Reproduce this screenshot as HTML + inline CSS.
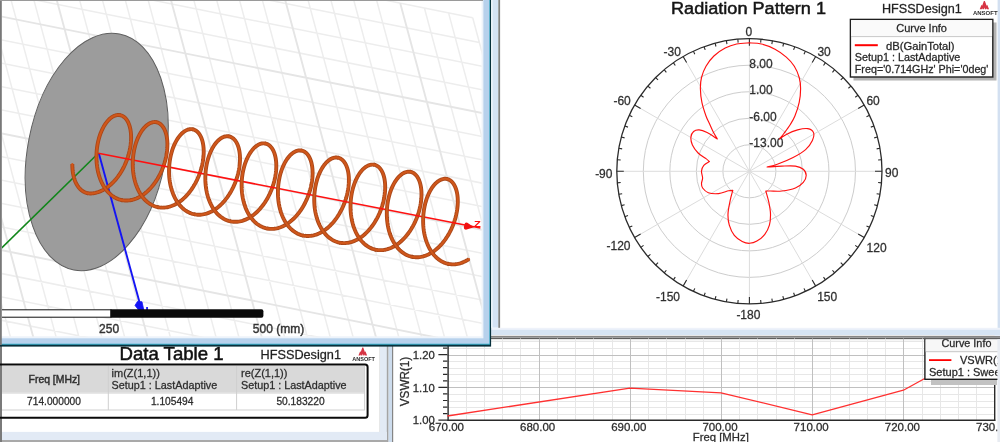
<!DOCTYPE html>
<html lang="en"><head><meta charset="utf-8"><title>HFSS helix antenna results</title>
<style>html,body{margin:0;padding:0;background:#fff;overflow:hidden}svg{display:block}text{font-family:"Liberation Sans", sans-serif;stroke:#333;stroke-width:.28px}</style></head><body>
<svg width="1000" height="442" viewBox="0 0 1000 442">
<rect width="1000" height="442" fill="#fff"/>
<g id="radpat">
<rect x="498" y="0" width="502" height="338" fill="#fff"/>
<rect x="997.6" y="0" width="2.4" height="338" fill="#d3e0f1"/>
<rect x="491" y="327.8" width="509" height="8.4" fill="#eef2fa"/><rect x="491" y="329.8" width="509" height="5.6" fill="#d6e4f3"/>
<circle cx="749.4" cy="171.3" r="26.52" fill="none" stroke="#cdcdcd" stroke-width="1"/>
<circle cx="749.4" cy="171.3" r="53.04" fill="none" stroke="#cdcdcd" stroke-width="1"/>
<circle cx="749.4" cy="171.3" r="79.56" fill="none" stroke="#cdcdcd" stroke-width="1"/>
<circle cx="749.4" cy="171.3" r="106.08" fill="none" stroke="#cdcdcd" stroke-width="1"/>
<line x1="749.4" y1="171.3" x2="749.4" y2="38.7" stroke="#dcdcdc" stroke-width="1"/>
<line x1="749.4" y1="171.3" x2="815.7" y2="56.47" stroke="#dcdcdc" stroke-width="1"/>
<line x1="749.4" y1="171.3" x2="864.23" y2="105" stroke="#dcdcdc" stroke-width="1"/>
<line x1="749.4" y1="171.3" x2="882" y2="171.3" stroke="#dcdcdc" stroke-width="1"/>
<line x1="749.4" y1="171.3" x2="864.23" y2="237.6" stroke="#dcdcdc" stroke-width="1"/>
<line x1="749.4" y1="171.3" x2="815.7" y2="286.13" stroke="#dcdcdc" stroke-width="1"/>
<line x1="749.4" y1="171.3" x2="749.4" y2="303.9" stroke="#dcdcdc" stroke-width="1"/>
<line x1="749.4" y1="171.3" x2="683.1" y2="286.13" stroke="#dcdcdc" stroke-width="1"/>
<line x1="749.4" y1="171.3" x2="634.57" y2="237.6" stroke="#dcdcdc" stroke-width="1"/>
<line x1="749.4" y1="171.3" x2="616.8" y2="171.3" stroke="#dcdcdc" stroke-width="1"/>
<line x1="749.4" y1="171.3" x2="634.57" y2="105" stroke="#dcdcdc" stroke-width="1"/>
<line x1="749.4" y1="171.3" x2="683.1" y2="56.47" stroke="#dcdcdc" stroke-width="1"/>
<circle cx="749.4" cy="171.3" r="132.6" fill="none" stroke="#2b2b2b" stroke-width="1.3"/>
<path d="M749.4 38.7L749.4 45.7M760.96 39.2L760.66 42.59M772.43 40.71L771.84 44.06M783.72 43.22L782.84 46.5M794.75 46.7L793.59 49.89M805.44 51.12L804 54.21M815.7 56.47L812.2 62.53M825.46 62.68L823.51 65.47M834.63 69.72L832.45 72.33M843.16 77.54L840.76 79.94M850.98 86.07L848.37 88.25M858.02 95.24L855.23 97.19M864.23 105L858.17 108.5M869.58 115.26L866.49 116.7M874 125.95L870.81 127.11M877.48 136.98L874.2 137.86M879.99 148.27L876.64 148.86M881.5 159.74L878.11 160.04M882 171.3L875 171.3M881.5 182.86L878.11 182.56M879.99 194.33L876.64 193.74M877.48 205.62L874.2 204.74M874 216.65L870.81 215.49M869.58 227.34L866.49 225.9M864.23 237.6L858.17 234.1M858.02 247.36L855.23 245.41M850.98 256.53L848.37 254.35M843.16 265.06L840.76 262.66M834.63 272.88L832.45 270.27M825.46 279.92L823.51 277.13M815.7 286.13L812.2 280.07M805.44 291.48L804 288.39M794.75 295.9L793.59 292.71M783.72 299.38L782.84 296.1M772.43 301.89L771.84 298.54M760.96 303.4L760.66 300.01M749.4 303.9L749.4 296.9M737.84 303.4L738.14 300.01M726.37 301.89L726.96 298.54M715.08 299.38L715.96 296.1M704.05 295.9L705.21 292.71M693.36 291.48L694.8 288.39M683.1 286.13L686.6 280.07M673.34 279.92L675.29 277.13M664.17 272.88L666.35 270.27M655.64 265.06L658.04 262.66M647.82 256.53L650.43 254.35M640.78 247.36L643.57 245.41M634.57 237.6L640.63 234.1M629.22 227.34L632.31 225.9M624.8 216.65L627.99 215.49M621.32 205.62L624.6 204.74M618.81 194.33L622.16 193.74M617.3 182.86L620.69 182.56M616.8 171.3L623.8 171.3M617.3 159.74L620.69 160.04M618.81 148.27L622.16 148.86M621.32 136.98L624.6 137.86M624.8 125.95L627.99 127.11M629.22 115.26L632.31 116.7M634.57 105L640.63 108.5M640.78 95.24L643.57 97.19M647.82 86.07L650.43 88.25M655.64 77.54L658.04 79.94M664.17 69.72L666.35 72.33M673.34 62.68L675.29 65.47M683.1 56.47L686.6 62.53M693.36 51.12L694.8 54.21M704.05 46.7L705.21 49.89M715.08 43.22L715.96 46.5M726.37 40.71L726.96 44.06M737.84 39.2L738.14 42.59" stroke="#2b2b2b" stroke-width="1.1" fill="none"/>
<text x="748.8" y="36.3" font-size="12" text-anchor="middle" fill="#2e2e2e">0</text>
<text x="824.1" y="55.5" font-size="12" text-anchor="middle" fill="#2e2e2e">30</text>
<text x="873.1" y="104.6" font-size="12" text-anchor="middle" fill="#2e2e2e">60</text>
<text x="891.8" y="177.1" font-size="12" text-anchor="middle" fill="#2e2e2e">90</text>
<text x="876.6" y="252.3" font-size="12" text-anchor="middle" fill="#2e2e2e">120</text>
<text x="827.2" y="300.8" font-size="12" text-anchor="middle" fill="#2e2e2e">150</text>
<text x="748.4" y="319" font-size="12" text-anchor="middle" fill="#2e2e2e">-180</text>
<text x="668" y="300.9" font-size="12" text-anchor="middle" fill="#2e2e2e">-150</text>
<text x="618.5" y="250.3" font-size="12" text-anchor="middle" fill="#2e2e2e">-120</text>
<text x="603.8" y="177.6" font-size="12" text-anchor="middle" fill="#2e2e2e">-90</text>
<text x="622.1" y="104.6" font-size="12" text-anchor="middle" fill="#2e2e2e">-60</text>
<text x="672.2" y="55.5" font-size="12" text-anchor="middle" fill="#2e2e2e">-30</text>
<text x="749.3" y="68.2" font-size="12" fill="#2e2e2e">8.00</text>
<text x="749.3" y="94.4" font-size="12" fill="#2e2e2e">1.00</text>
<text x="749.3" y="120.7" font-size="12" fill="#2e2e2e">-6.00</text>
<text x="749.3" y="147.1" font-size="12" fill="#2e2e2e">-13.00</text>
<path d="M749.5 42.9C751.48 43.08 757.15 42.95 761.4 44C765.65 45.05 770.85 47.02 775 49.2C779.15 51.38 783.08 54.27 786.3 57.1C789.52 59.93 792.15 62.8 794.3 66.2C796.45 69.6 798.15 73.73 799.2 77.5C800.25 81.27 800.6 84.65 800.6 88.8C800.6 92.95 800.15 97.87 799.2 102.4C798.25 106.93 796.38 112.32 794.9 116C793.42 119.68 792.13 121.58 790.3 124.5C788.47 127.42 785.7 131.08 783.9 133.5C782.1 135.92 780.23 138.08 779.5 139L779.5 139C780.63 138.23 783.28 135.92 786.3 134.4C789.32 132.88 794.02 130.87 797.6 129.9C801.18 128.93 805.15 128.15 807.8 128.6C810.45 129.05 812.73 130.62 813.5 132.6C814.27 134.58 813.72 137.67 812.4 140.5C811.08 143.33 808.82 146.77 805.6 149.6C802.38 152.43 797.82 155.05 793.1 157.5C788.38 159.95 781.63 162.72 777.3 164.3C772.97 165.88 768.8 166.55 767.1 167L767.1 167C769.55 166.85 777.08 166.25 781.8 166.1C786.52 165.95 791.82 165.57 795.4 166.1C798.98 166.63 801.5 167.72 803.3 169.3C805.1 170.88 806.2 173.42 806.2 175.6C806.2 177.78 805.1 180.33 803.3 182.4C801.5 184.47 798.98 186.57 795.4 188C791.82 189.43 785.95 190.5 781.8 191C777.65 191.5 773.17 191 770.5 191C767.83 191 766.58 191 765.8 191L765.8 191C766.32 192.93 768.12 198.78 768.9 202.6C769.68 206.42 770.42 210.13 770.5 213.9C770.58 217.67 770.35 221.8 769.4 225.2C768.45 228.6 766.88 231.65 764.8 234.3C762.72 236.95 759.45 239.6 756.9 241.1C754.35 242.6 751.95 243.23 749.5 243.3C747.05 243.37 744.73 242.82 742.2 241.5C739.67 240.18 736.45 238.12 734.3 235.4C732.15 232.68 730.35 228.78 729.3 225.2C728.25 221.62 727.85 218.03 728 213.9C728.15 209.77 729.4 204.33 730.2 200.4C731 196.47 732.37 191.98 732.8 190.3L732.8 190.3C732.1 190.38 730.98 190.25 728.6 190.8C726.22 191.35 721.88 193.28 718.5 193.6C715.12 193.92 710.95 193.63 708.3 192.7C705.65 191.77 703.73 189.53 702.6 188C701.47 186.47 701.5 185.18 701.5 183.5C701.5 181.82 702.6 179.97 702.6 177.9C702.6 175.83 701.3 173.18 701.5 171.1C701.7 169.02 702.48 166.98 703.8 165.4C705.12 163.82 708.47 162.23 709.4 161.6L709.4 161.6C708.83 161.1 707.88 160.03 706 158.6C704.12 157.17 700.37 155.25 698.1 153C695.83 150.75 693.6 147.75 692.4 145.1C691.2 142.45 690.7 139.37 690.9 137.1C691.1 134.83 692.22 132.7 693.6 131.5C694.98 130.3 696.95 129.72 699.2 129.9C701.45 130.08 704.08 131.08 707.1 132.6C710.12 134.12 715.6 137.93 717.3 139L717.3 139C716.58 137.75 714.32 134.07 713 131.5C711.68 128.93 710.57 126.18 709.4 123.6C708.23 121.02 707.25 119.53 706 116C704.75 112.47 702.83 106.93 701.9 102.4C700.97 97.87 700.47 92.95 700.4 88.8C700.33 84.65 700.57 81.27 701.5 77.5C702.43 73.73 703.93 69.78 706 66.2C708.07 62.62 710.7 59.02 713.9 56C717.1 52.98 721.42 50.1 725.2 48.1C728.98 46.1 732.55 44.87 736.6 44C740.65 43.13 747.35 43.08 749.5 42.9" fill="none" stroke="#ff1010" stroke-width="1.15" stroke-linejoin="round"/>
<text x="671" y="14" font-size="17.4" fill="#151515" style="stroke:#151515;stroke-width:.5px" textLength="155" lengthAdjust="spacingAndGlyphs">Radiation Pattern 1</text>
<text x="881.9" y="13.3" font-size="13" fill="#1a1a1a" textLength="80" lengthAdjust="spacingAndGlyphs">HFSSDesign1</text>
<g transform="translate(984.6 0.9) scale(1.08)">
<path transform="scale(0.84 1)" d="M-0.8 0L0.3 0L2.2 4.4L2.9 3.6L4.9 7.8L2.6 7.8L2.2 6.9L1.6 7.8L0.4 7.8L-0.25 6.2L-0.9 7.8L-2.1 7.8L-2.7 6.9L-3.1 7.8L-5.4 7.8L-3.4 3.6L-2.7 4.4Z" fill="#d63444"/>
<text x="0.6" y="13.3" font-size="5" font-weight="bold" text-anchor="middle" fill="#2c2c2c" style="stroke:none" textLength="22.8" lengthAdjust="spacingAndGlyphs">ANSOFT</text>
</g>
<rect x="853.5" y="22.5" width="143" height="58" fill="#b4b4b4"/>
<rect x="850.4" y="19.4" width="142.4" height="57.6" fill="#fff" stroke="#1e1e1e" stroke-width="1.4"/>
<rect x="851.1" y="20.1" width="141" height="16.2" fill="#fafafa"/>
<line x1="851" y1="36.6" x2="992" y2="36.6" stroke="#c8c8c8" stroke-width="1"/>
<text x="921.6" y="32.4" font-size="11" text-anchor="middle" fill="#222">Curve Info</text>
<line x1="854.8" y1="45.2" x2="877.8" y2="45.2" stroke="#ff0000" stroke-width="2"/>
<text x="886" y="50.2" font-size="11" fill="#222" textLength="68.6" lengthAdjust="spacingAndGlyphs">dB(GainTotal)</text>
<text x="854.8" y="61.4" font-size="11" fill="#222" textLength="105.5" lengthAdjust="spacingAndGlyphs">Setup1 : LastAdaptive</text>
<text x="854.8" y="73" font-size="11" fill="#222" textLength="133.6" lengthAdjust="spacingAndGlyphs">Freq='0.714GHz' Phi='0deg'</text>
</g>
<g id="vswr">
<rect x="388" y="336" width="612" height="106" fill="#fff"/>
<rect x="491" y="336" width="509" height="3.2" fill="#b2b2b2"/><rect x="491" y="336" width="509" height="1" fill="#868686"/><rect x="491" y="337.8" width="509" height="1.4" fill="#5e5e5e"/><rect x="393" y="339.2" width="607" height="1.2" fill="#ececec"/>
<path d="M466.5 338.5V420M484.5 338.5V420M502.5 338.5V420M520.5 338.5V420M557.5 338.5V420M575.5 338.5V420M593.5 338.5V420M612.5 338.5V420M648.5 338.5V420M666.5 338.5V420M685.5 338.5V420M703.5 338.5V420M739.5 338.5V420M757.5 338.5V420M776.5 338.5V420M794.5 338.5V420M830.5 338.5V420M849.5 338.5V420M867.5 338.5V420M885.5 338.5V420M922.5 338.5V420M940.5 338.5V420M958.5 338.5V420M976.5 338.5V420M447.4 414.5H994.6M447.4 407.5H994.6M447.4 401.5H994.6M447.4 394.5H994.6M447.4 381.5H994.6M447.4 374.5H994.6M447.4 368.5H994.6M447.4 361.5H994.6M447.4 348.5H994.6M447.4 341.5H994.6M447.4 335.5H994.6" stroke="#e7e7e7" stroke-width="1" fill="none"/>
<path d="M539.5 338.5V420M630.5 338.5V420M721.5 338.5V420M812.5 338.5V420M903.5 338.5V420M447.4 387.5H994.6M447.4 355.5H994.6" stroke="#c0c0c0" stroke-width="1" fill="none"/>
<rect x="447.4" y="339" width="1.4" height="82" fill="#2a2a2a"/>
<rect x="447.2" y="419.5" width="548.1" height="1.5" fill="#2a2a2a"/>
<rect x="994" y="339" width="1.4" height="82" fill="#2a2a2a"/>
<path d="M438.4 420.2H447.4M443 413.64H447.4M443 407.08H447.4M443 400.52H447.4M443 393.96H447.4M438.4 387.4H447.4M443 380.84H447.4M443 374.28H447.4M443 367.72H447.4M443 361.16H447.4M438.4 354.6H447.4M443 348.04H447.4M443 341.48H447.4" stroke="#2a2a2a" stroke-width="1.2" fill="none"/>
<text x="434.8" y="358.8" font-size="11.3" text-anchor="end" fill="#2a2a2a">1.20</text>
<text x="434.8" y="391.6" font-size="11.3" text-anchor="end" fill="#2a2a2a">1.10</text>
<text x="434.8" y="424.4" font-size="11.3" text-anchor="end" fill="#2a2a2a">1.00</text>
<text transform="translate(409.3 381.5) rotate(-90)" font-size="12" text-anchor="middle" fill="#2a2a2a" textLength="49.4" lengthAdjust="spacingAndGlyphs">VSWR(1)</text>
<text x="446.4" y="431.2" font-size="11.5" text-anchor="middle" fill="#2a2a2a">670.00</text>
<text x="537.6" y="431.2" font-size="11.5" text-anchor="middle" fill="#2a2a2a">680.00</text>
<text x="628.8" y="431.2" font-size="11.5" text-anchor="middle" fill="#2a2a2a">690.00</text>
<text x="720" y="431.2" font-size="11.5" text-anchor="middle" fill="#2a2a2a">700.00</text>
<text x="811.2" y="431.2" font-size="11.5" text-anchor="middle" fill="#2a2a2a">710.00</text>
<text x="902.4" y="431.2" font-size="11.5" text-anchor="middle" fill="#2a2a2a">720.00</text>
<text x="993.6" y="431.2" font-size="11.5" text-anchor="middle" fill="#2a2a2a">730.00</text>
<text x="692.8" y="440.9" font-size="11.3" fill="#2a2a2a" textLength="56" lengthAdjust="spacingAndGlyphs">Freq [MHz]</text>
<path d="M447.4 416L629.8 388.2L721 392.8L812.2 414.8L903.4 390.2L994.6 340" fill="none" stroke="#ff3030" stroke-width="1.3" stroke-linejoin="round"/>
<rect x="931" y="380" width="66" height="5" fill="#c2c2c2"/>
<rect x="924.9" y="337" width="80" height="42.3" fill="#fff" stroke="#1e1e1e" stroke-width="1.4"/>
<rect x="925.6" y="339.4" width="75" height="11.8" fill="#f7f7f7"/>
<line x1="925.6" y1="351.7" x2="1000" y2="351.7" stroke="#c4c4c4" stroke-width="1"/>
<text x="941.5" y="347.4" font-size="11" fill="#222" textLength="49.9" lengthAdjust="spacingAndGlyphs">Curve Info</text>
<line x1="929" y1="360.1" x2="951.4" y2="360.1" stroke="#ff0000" stroke-width="1.8"/>
<text x="960" y="364" font-size="11" fill="#222">VSWR(1)</text>
<text x="929" y="376.3" font-size="11" fill="#222">Setup1 : Sweep1</text>
<rect x="924" y="336" width="76" height="1" fill="#868686"/><rect x="924" y="337" width="76" height="0.8" fill="#b2b2b2"/><rect x="924" y="337.8" width="76" height="1.4" fill="#5e5e5e"/>
<rect x="997.4" y="339.2" width="2.6" height="103" fill="#e8ecf2"/>
</g>
<g id="datatable">
<rect x="0" y="345" width="392.8" height="97" fill="#fff"/>
<rect x="379.6" y="345" width="7.4" height="95" fill="#e2eaf5"/>
<rect x="379.2" y="345" width="0.8" height="87" fill="#e4e4e4"/>
<rect x="386.8" y="345" width="1.8" height="97" fill="#a4a4a4"/>
<rect x="388.6" y="345" width="3.6" height="97" fill="#cddced"/>
<rect x="392" y="338" width="1.2" height="104" fill="#858585"/>
<rect x="0" y="431.9" width="387" height="8.2" fill="#e2eaf5"/>
<rect x="0" y="440" width="387" height="2" fill="#a9a9a9"/>
<rect x="0" y="345" width="2" height="97" fill="#7a7a7a"/>
<text x="119.5" y="359.9" font-size="17.8" fill="#111" style="stroke:#111;stroke-width:.5px" textLength="104.1" lengthAdjust="spacingAndGlyphs">Data Table 1</text>
<text x="260.5" y="358.6" font-size="13" fill="#1a1a1a" textLength="80.5" lengthAdjust="spacingAndGlyphs">HFSSDesign1</text>
<g transform="translate(363 347.6) scale(1)">
<path transform="scale(0.84 1)" d="M-0.8 0L0.3 0L2.2 4.4L2.9 3.6L4.9 7.8L2.6 7.8L2.2 6.9L1.6 7.8L0.4 7.8L-0.25 6.2L-0.9 7.8L-2.1 7.8L-2.7 6.9L-3.1 7.8L-5.4 7.8L-3.4 3.6L-2.7 4.4Z" fill="#d63444"/>
<text x="0.6" y="13.3" font-size="5" font-weight="bold" text-anchor="middle" fill="#2c2c2c" style="stroke:none" textLength="22.8" lengthAdjust="spacingAndGlyphs">ANSOFT</text>
</g>
<rect x="2" y="365.8" width="363" height="26.8" fill="#d9d9d9"/>
<rect x="2" y="392.6" width="363" height="17.4" fill="#fff"/>
<path d="M2 393H365M2 410H365M108.3 366V410M236.6 366V410M364.6 366V410" stroke="#cfcfcf" stroke-width="1" fill="none"/>
<rect x="-20" y="364.5" width="387.6" height="53.2" rx="2.5" ry="2.5" fill="none" stroke="#0a0a0a" stroke-width="2"/>
<text x="54.3" y="383" font-size="10.4" text-anchor="middle" fill="#2a2a2a" style="stroke-width:.45px">Freq [MHz]</text>
<text x="111.6" y="376.8" font-size="11" fill="#2a2a2a">im(Z(1,1))</text>
<text x="111.6" y="388.9" font-size="11" fill="#2a2a2a" textLength="105.6" lengthAdjust="spacingAndGlyphs">Setup1 : LastAdaptive</text>
<text x="241" y="376.8" font-size="11" fill="#2a2a2a">re(Z(1,1))</text>
<text x="241" y="388.9" font-size="11" fill="#2a2a2a" textLength="105.6" lengthAdjust="spacingAndGlyphs">Setup1 : LastAdaptive</text>
<text x="54" y="405.3" font-size="10.2" text-anchor="middle" fill="#2a2a2a">714.000000</text>
<text x="172.2" y="405.3" font-size="10.2" text-anchor="middle" fill="#2a2a2a">1.105494</text>
<text x="300.5" y="405.3" font-size="10.2" text-anchor="middle" fill="#2a2a2a">50.183220</text>
</g>
<g id="model3d">
<rect x="0" y="0" width="491.1" height="346.6" fill="#07303c"/>
<rect x="0" y="0" width="489.9" height="344.7" fill="#3fb4d0"/>
<rect x="0" y="0" width="489.3" height="343.7" fill="#b7d1ec"/>
<rect x="0" y="0" width="483.4" height="338.3" fill="#edf3fa"/>
<rect x="0" y="0" width="481.6" height="336.3" fill="#fff"/>
<rect x="491.1" y="0" width="1.4" height="327.6" fill="#eaf1fa"/>
<rect x="492.5" y="0" width="5.8" height="327.6" fill="#d5e3f5"/>
<rect x="498.3" y="0" width="1.8" height="327.8" fill="#828282"/>
<clipPath id="c3d"><rect x="2" y="1" width="479.6" height="335.4"/></clipPath>
<g clip-path="url(#c3d)">
<path d="M-251.8 -127.8L-92.2 465M-227.65 -122.95L-68.05 469.85M-179.35 -113.25L-19.75 479.55M-155.2 -108.4L4.4 484.4M-131.05 -103.55L28.55 489.25M-106.9 -98.7L52.7 494.1M-58.6 -89L101 503.8M-34.45 -84.15L125.15 508.65M-10.3 -79.3L149.3 513.5M13.85 -74.45L173.45 518.35M62.15 -64.75L221.75 528.05M86.3 -59.9L245.9 532.9M110.45 -55.05L270.05 537.75M134.6 -50.2L294.2 542.6M182.9 -40.5L342.5 552.3M207.05 -35.65L366.65 557.15M231.2 -30.8L390.8 562M255.35 -25.95L414.95 566.85M303.65 -16.25L463.25 576.55M327.8 -11.4L487.4 581.4M351.95 -6.55L511.55 586.25M376.1 -1.7L535.7 591.1M424.4 8L584 600.8M448.55 12.85L608.15 605.65M472.7 17.7L632.3 610.5M-251.8 -127.8L472.7 17.7M-245.15 -103.1L479.35 42.4M-238.5 -78.4L486 67.1M-231.85 -53.7L492.65 91.8M-218.55 -4.3L505.95 141.2M-211.9 20.4L512.6 165.9M-205.25 45.1L519.25 190.6M-198.6 69.8L525.9 215.3M-185.3 119.2L539.2 264.7M-178.65 143.9L545.85 289.4M-172 168.6L552.5 314.1M-165.35 193.3L559.15 338.8M-152.05 242.7L572.45 388.2M-145.4 267.4L579.1 412.9M-138.75 292.1L585.75 437.6M-132.1 316.8L592.4 462.3M-118.8 366.2L605.7 511.7M-112.15 390.9L612.35 536.4M-105.5 415.6L619 561.1M-98.85 440.3L625.65 585.8" stroke="#ededed" stroke-width="1.5" fill="none"/>
<path d="M-203.5 -118.1L-43.9 474.7M-82.75 -93.85L76.85 498.95M38 -69.6L197.6 523.2M158.75 -45.35L318.35 547.45M279.5 -21.1L439.1 571.7M400.25 3.15L559.85 595.95M-225.2 -29L499.3 116.5M-191.95 94.5L532.55 240M-158.7 218L565.8 363.5M-125.45 341.5L599.05 487M-92.2 465L632.3 610.5" stroke="#e5e5e5" stroke-width="1.9" fill="none"/>
<ellipse cx="96.7" cy="151.96" rx="68.95" ry="120.18" transform="rotate(10.94 96.7 151.96)" fill="#9c9c9c" stroke="#5f5f5f" stroke-width="1"/>
<line x1="98.3" y1="153.3" x2="-2" y2="251.5" stroke="#11861a" stroke-width="1.6"/>
<line x1="98.8" y1="153.3" x2="140" y2="304" stroke="#1414f4" stroke-width="1.9"/>
<path d="M137.4 301.6L142 301.8L143.8 310L138.6 310L135 305.4Z" fill="#1414f4" stroke="#1414f4" stroke-width="0.8" stroke-linejoin="round"/><rect x="146.2" y="307" width="1.7" height="3" fill="#1414f4"/>
<path d="M87.03 193.04L87.99 193.24L88.98 193.38L89.98 193.45L91.01 193.46L92.06 193.4L93.15 193.27L94.35 193.07L95.62 192.81L96.9 192.48L98.17 192.09L99.44 191.64L100.7 191.12L101.96 190.53L103.21 189.89L104.45 189.19L105.68 188.42L106.89 187.6L108.09 186.73L109.27 185.8L110.43 184.81L111.58 183.77L112.7 182.69L113.8 181.55L114.88 180.37L115.93 179.15L116.96 177.88L117.95 176.58L118.92 175.23L119.86 173.85L120.76 172.44L121.64 171L122.48 169.53L123.28 168.03L124.05 166.51L124.78 164.97L125.48 163.41L126.13 161.84L126.75 160.25L127.33 158.65L127.87 157.05L128.37 155.44L128.83 153.83L129.24 152.22L129.62 150.61L129.95 149.01L130.24 147.42L130.49 145.83L130.7 144.27L130.86 142.72L130.99 141.19L131.07 139.68L131.11 138.19L131.11 136.73L131.06 135.31L130.98 133.91L130.86 132.55L130.7 131.22L130.5 129.93L130.26 128.69L129.98 127.48L129.67 126.33L129.33 125.21L128.94 124.15L128.53 123.14L128.08 122.18L127.6 121.27L127.1 120.42L126.56 119.63L125.99 118.9L125.4 118.22L124.79 117.61L124.15 117.06L123.48 116.57L122.8 116.14L122.1 115.78L121.38 115.49L120.64 115.26L119.89 115.1M121.3 200.01L122.52 200.24L123.75 200.41L125 200.52L126.25 200.55L127.51 200.52L128.78 200.42L130.05 200.26L131.32 200.03L132.6 199.73L133.87 199.37L135.14 198.95L136.41 198.46L137.67 197.9L138.92 197.29L140.17 196.61L141.4 195.88L142.62 195.09L143.82 194.23L145.02 193.33L146.19 192.37L147.34 191.36L148.48 190.29L149.59 189.18L150.68 188.02L151.74 186.82L152.78 185.57L153.79 184.28L154.77 182.96L155.72 181.59L156.64 180.2L157.53 178.77L158.38 177.31L159.21 175.82L159.99 174.31L160.74 172.78L161.45 171.23L162.13 169.67L162.76 168.08L163.36 166.49L163.92 164.89L164.44 163.28L164.91 161.67L165.35 160.06L165.74 158.45L166.1 156.85L166.41 155.25L166.68 153.66L166.9 152.09L167.09 150.53L167.23 148.99L167.33 147.47L167.39 145.97L167.41 144.5L167.39 143.06L167.32 141.65L167.22 140.27L167.07 138.93L166.89 137.62L166.67 136.36L166.41 135.13L166.12 133.95L165.79 132.82L165.42 131.73L165.03 130.7L164.59 129.71L164.13 128.78L163.64 127.91L163.11 127.09L162.56 126.32L161.98 125.62L161.37 124.98L160.75 124.4L160.09 123.88L159.42 123.42L158.73 123.03L158.02 122.71L157.29 122.45L156.54 122.25L155.79 122.13M157.03 206.96L158.24 207.23L159.47 207.43L160.71 207.57L161.96 207.63L163.22 207.63L164.48 207.57L165.75 207.43L167.02 207.24L168.3 206.97L169.57 206.64L170.84 206.24L172.11 205.78L173.38 205.26L174.63 204.67L175.88 204.03L177.12 203.32L178.35 202.55L179.56 201.73L180.76 200.85L181.94 199.91L183.1 198.93L184.24 197.89L185.37 196.8L186.47 195.66L187.54 194.48L188.59 193.25L189.61 191.98L190.61 190.67L191.57 189.33L192.51 187.94L193.41 186.53L194.28 185.09L195.12 183.61L195.92 182.11L196.69 180.59L197.42 179.05L198.11 177.49L198.77 175.92L199.38 174.33L199.96 172.73L200.5 171.13L200.99 169.52L201.45 167.91L201.86 166.3L202.23 164.69L202.56 163.09L202.85 161.5L203.1 159.92L203.3 158.35L203.47 156.8L203.59 155.27L203.67 153.76L203.7 152.28L203.7 150.82L203.65 149.4L203.57 148L203.44 146.64L203.28 145.32L203.08 144.03L202.84 142.79L202.56 141.59L202.25 140.43L201.9 139.33L201.51 138.27L201.1 137.26L200.65 136.3L200.17 135.4L199.66 134.55L199.12 133.76L198.55 133.03L197.96 132.36L197.34 131.75L196.7 131.2L196.04 130.72L195.35 130.3L194.65 129.94L193.93 129.65L193.19 129.42L192.44 129.27M193.97 214.2L195.19 214.43L196.42 214.6L197.67 214.7L198.92 214.73L200.18 214.7L201.45 214.59L202.72 214.43L204 214.19L205.27 213.89L206.54 213.53L207.82 213.1L209.08 212.6L210.34 212.05L211.59 211.43L212.84 210.75L214.07 210.01L215.29 209.21L216.49 208.36L217.68 207.45L218.85 206.49L220.01 205.47L221.14 204.4L222.25 203.29L223.34 202.13L224.4 200.92L225.43 199.67L226.44 198.38L227.42 197.05L228.37 195.69L229.29 194.29L230.18 192.86L231.03 191.4L231.85 189.91L232.63 188.4L233.38 186.87L234.09 185.31L234.76 183.75L235.4 182.16L235.99 180.57L236.55 178.97L237.06 177.36L237.54 175.75L237.97 174.14L238.36 172.53L238.71 170.93L239.02 169.33L239.29 167.74L239.51 166.17L239.69 164.61L239.83 163.07L239.93 161.56L239.99 160.06L240 158.59L239.98 157.15L239.91 155.74L239.81 154.36L239.66 153.02L239.48 151.72L239.25 150.46L238.99 149.24L238.7 148.06L238.36 146.93L238 145.85L237.59 144.81L237.16 143.83L236.69 142.9L236.2 142.03L235.67 141.22L235.12 140.46L234.54 139.76L233.93 139.12L233.3 138.54L232.65 138.03L231.97 137.58L231.28 137.19L230.57 136.87L229.84 136.61L229.09 136.42L228.33 136.3M229.7 221.16L230.91 221.42L232.14 221.62L233.38 221.75L234.63 221.81L235.89 221.81L237.15 221.74L238.42 221.6L239.7 221.4L240.97 221.13L242.24 220.79L243.52 220.4L244.79 219.93L246.05 219.4L247.31 218.81L248.55 218.16L249.79 217.45L251.02 216.68L252.23 215.86L253.42 214.97L254.6 214.03L255.77 213.04L256.91 212L258.03 210.91L259.13 209.77L260.2 208.58L261.25 207.35L262.27 206.08L263.26 204.77L264.23 203.42L265.16 202.04L266.06 200.62L266.93 199.17L267.77 197.7L268.57 196.2L269.33 194.68L270.06 193.13L270.75 191.57L271.4 190L272.02 188.41L272.59 186.81L273.12 185.21L273.62 183.6L274.07 181.98L274.48 180.37L274.85 178.77L275.18 177.17L275.46 175.58L275.71 174L275.91 172.43L276.07 170.88L276.19 169.35L276.26 167.85L276.3 166.37L276.29 164.91L276.25 163.49L276.16 162.1L276.03 160.74L275.86 159.42L275.66 158.13L275.42 156.89L275.14 155.69L274.82 154.54L274.47 153.44L274.08 152.38L273.67 151.37L273.21 150.42L272.73 149.52L272.22 148.68L271.68 147.89L271.11 147.17L270.52 146.5L269.9 145.89L269.25 145.35L268.59 144.87L267.9 144.45L267.2 144.1L266.48 143.81L265.74 143.59L264.99 143.44M266.64 228.4L267.86 228.62L269.09 228.79L270.34 228.88L271.6 228.91L272.86 228.87L274.12 228.76L275.4 228.59L276.67 228.35L277.94 228.05L279.22 227.68L280.49 227.25L281.75 226.75L283.01 226.19L284.27 225.57L285.51 224.88L286.74 224.14L287.96 223.34L289.16 222.48L290.35 221.57L291.52 220.6L292.67 219.58L293.8 218.51L294.91 217.4L296 216.23L297.06 215.02L298.09 213.77L299.1 212.48L300.08 211.15L301.02 209.78L301.94 208.38L302.83 206.95L303.68 205.48L304.49 204L305.28 202.48L306.02 200.95L306.73 199.4L307.4 197.83L308.03 196.24L308.62 194.65L309.18 193.05L309.69 191.44L310.16 189.83L310.59 188.22L310.98 186.61L311.33 185.01L311.63 183.41L311.9 181.82L312.12 180.25L312.3 178.7L312.44 177.16L312.53 175.64L312.59 174.15L312.6 172.68L312.57 171.24L312.5 169.83L312.39 168.46L312.24 167.12L312.06 165.82L311.83 164.56L311.57 163.34L311.27 162.17L310.94 161.04L310.57 159.96L310.16 158.93L309.73 157.95L309.26 157.03L308.76 156.16L308.23 155.35L307.68 154.59L307.1 153.89L306.49 153.26L305.86 152.69L305.2 152.18L304.53 151.73L303.83 151.35L303.12 151.03L302.39 150.78L301.64 150.59L300.88 150.47M302.37 235.35L303.58 235.61L304.81 235.81L306.05 235.93L307.3 235.99L308.56 235.99L309.83 235.91L311.1 235.77L312.37 235.56L313.64 235.29L314.92 234.95L316.19 234.55L317.46 234.08L318.72 233.55L319.98 232.95L321.22 232.3L322.46 231.59L323.69 230.81L324.9 229.98L326.09 229.09L327.27 228.15L328.43 227.16L329.57 226.11L330.69 225.02L331.79 223.87L332.86 222.68L333.91 221.45L334.93 220.18L335.92 218.86L336.88 217.51L337.81 216.13L338.71 214.71L339.58 213.26L340.41 211.79L341.21 210.28L341.97 208.76L342.7 207.22L343.39 205.65L344.04 204.08L344.65 202.49L345.22 200.89L345.75 199.28L346.24 197.67L346.69 196.06L347.1 194.45L347.47 192.85L347.79 191.25L348.08 189.66L348.32 188.08L348.52 186.51L348.67 184.97L348.79 183.44L348.86 181.93L348.89 180.45L348.89 179L348.84 177.58L348.75 176.19L348.62 174.83L348.45 173.51L348.24 172.23L348 171L347.71 169.8L347.4 168.65L347.04 167.55L346.65 166.49L346.23 165.49L345.78 164.54L345.3 163.65L344.78 162.81L344.24 162.03L343.67 161.3L343.07 160.64L342.45 160.04L341.81 159.5L341.14 159.02L340.46 158.61L339.75 158.26L339.03 157.98L338.29 157.76L337.54 157.61M339.31 242.59L340.53 242.81L341.77 242.97L343.01 243.06L344.27 243.09L345.53 243.04L346.8 242.93L348.07 242.76L349.34 242.51L350.62 242.21L351.89 241.83L353.16 241.4L354.43 240.89L355.69 240.33L356.94 239.7L358.18 239.02L359.41 238.27L360.63 237.47L361.83 236.61L363.02 235.69L364.19 234.72L365.34 233.7L366.47 232.62L367.58 231.5L368.66 230.34L369.72 229.12L370.75 227.87L371.76 226.57L372.73 225.24L373.68 223.87L374.59 222.47L375.47 221.03L376.32 219.57L377.14 218.08L377.92 216.57L378.66 215.03L379.37 213.48L380.03 211.91L380.66 210.32L381.25 208.73L381.8 207.13L382.31 205.52L382.78 203.91L383.21 202.3L383.6 200.69L383.94 199.09L384.25 197.49L384.51 195.91L384.73 194.33L384.9 192.78L385.04 191.24L385.13 189.73L385.18 188.23L385.19 186.77L385.16 185.33L385.09 183.93L384.98 182.55L384.83 181.22L384.64 179.92L384.41 178.66L384.15 177.44L383.85 176.27L383.51 175.15L383.14 174.07L382.73 173.05L382.29 172.07L381.83 171.15L381.33 170.28L380.8 169.47L380.24 168.72L379.65 168.03L379.05 167.4L378.41 166.83L377.76 166.32L377.08 165.88L376.38 165.5L375.67 165.19L374.94 164.94L374.19 164.76L373.43 164.64M375.04 249.55L376.25 249.81L377.48 250L378.72 250.12L379.98 250.17L381.23 250.16L382.5 250.08L383.77 249.94L385.04 249.73L386.32 249.45L387.59 249.11L388.86 248.7L390.13 248.23L391.39 247.69L392.65 247.09L393.9 246.44L395.13 245.72L396.36 244.94L397.57 244.11L398.76 243.22L399.94 242.27L401.1 241.27L402.24 240.22L403.36 239.12L404.45 237.98L405.52 236.79L406.57 235.55L407.58 234.28L408.57 232.96L409.53 231.61L410.46 230.22L411.36 228.8L412.23 227.35L413.06 225.87L413.85 224.37L414.61 222.84L415.34 221.3L416.02 219.74L416.67 218.16L417.28 216.57L417.85 214.97L418.38 213.36L418.87 211.75L419.31 210.14L419.72 208.53L420.08 206.93L420.41 205.33L420.69 203.74L420.93 202.16L421.12 200.6L421.28 199.05L421.39 197.52L421.46 196.02L421.49 194.54L421.48 193.09L421.43 191.67L421.33 190.28L421.2 188.93L421.03 187.61L420.82 186.33L420.57 185.1L420.29 183.91L419.97 182.76L419.61 181.66L419.22 180.61L418.8 179.61L418.35 178.66L417.86 177.77L417.35 176.94L416.8 176.16L416.23 175.44L415.63 174.78L415.01 174.18L414.36 173.64L413.7 173.17L413.01 172.76L412.3 172.42L411.58 172.14L410.84 171.92L410.08 171.78M411.98 256.78L413.2 257L414.44 257.16L415.68 257.24L416.94 257.26L418.2 257.22L419.47 257.1L420.74 256.92L422.02 256.68L423.29 256.36L424.56 255.99L425.83 255.54L427.1 255.04L428.36 254.47L429.61 253.84L430.85 253.15L432.08 252.4L433.3 251.59L434.5 250.73L435.69 249.81L436.85 248.84L438 247.81L439.13 246.74L440.24 245.61L441.32 244.44L442.38 243.23L443.41 241.97L444.41 240.67L445.39 239.34L446.33 237.96L447.24 236.56L448.12 235.12L448.97 233.66L449.78 232.17L450.56 230.65L451.3 229.11L452 227.56L452.67 225.99L453.3 224.4L453.88 222.81L454.43 221.21L454.94 219.6L455.41 217.99L455.83 216.38L456.22 214.77L456.56 213.16L456.86 211.57L457.12 209.99L457.33 208.42L457.51 206.86L457.64 205.33L457.73 203.81L457.78 202.32L457.79 200.86L457.75 199.42L457.68 198.02L457.57 196.65L457.41 195.31L457.22 194.02L456.99 192.76L456.73 191.55L456.42 190.38L456.08 189.26L455.71 188.19L455.3 187.16L454.86 186.19L454.39 185.27L453.89 184.41L453.36 183.61L452.8 182.86L452.21 182.17L451.6 181.54L450.97 180.98L450.31 180.47L449.63 180.03L448.93 179.66L448.22 179.35L447.48 179.11L446.74 178.93M447.71 263.75L448.92 264L450.15 264.18L451.4 264.3L452.65 264.35L453.91 264.34L455.17 264.25L456.44 264.1L457.72 263.89L458.99 263.61L460.27 263.26L461.54 262.85L462.8 262.37L464.07 261.83L465.32 261.23L466.57 260.57L467.8 259.85L469.03 259.07" fill="none" stroke="#a9471a" stroke-width="3.9" stroke-linecap="butt" stroke-linejoin="round"/>
<path d="M87.03 193.04L87.99 193.24L88.98 193.38L89.98 193.45L91.01 193.46L92.06 193.4L93.15 193.27L94.35 193.07L95.62 192.81L96.9 192.48L98.17 192.09L99.44 191.64L100.7 191.12L101.96 190.53L103.21 189.89L104.45 189.19L105.68 188.42L106.89 187.6L108.09 186.73L109.27 185.8L110.43 184.81L111.58 183.77L112.7 182.69L113.8 181.55L114.88 180.37L115.93 179.15L116.96 177.88L117.95 176.58L118.92 175.23L119.86 173.85L120.76 172.44L121.64 171L122.48 169.53L123.28 168.03L124.05 166.51L124.78 164.97L125.48 163.41L126.13 161.84L126.75 160.25L127.33 158.65L127.87 157.05L128.37 155.44L128.83 153.83L129.24 152.22L129.62 150.61L129.95 149.01L130.24 147.42L130.49 145.83L130.7 144.27L130.86 142.72L130.99 141.19L131.07 139.68L131.11 138.19L131.11 136.73L131.06 135.31L130.98 133.91L130.86 132.55L130.7 131.22L130.5 129.93L130.26 128.69L129.98 127.48L129.67 126.33L129.33 125.21L128.94 124.15L128.53 123.14L128.08 122.18L127.6 121.27L127.1 120.42L126.56 119.63L125.99 118.9L125.4 118.22L124.79 117.61L124.15 117.06L123.48 116.57L122.8 116.14L122.1 115.78L121.38 115.49L120.64 115.26L119.89 115.1M121.3 200.01L122.52 200.24L123.75 200.41L125 200.52L126.25 200.55L127.51 200.52L128.78 200.42L130.05 200.26L131.32 200.03L132.6 199.73L133.87 199.37L135.14 198.95L136.41 198.46L137.67 197.9L138.92 197.29L140.17 196.61L141.4 195.88L142.62 195.09L143.82 194.23L145.02 193.33L146.19 192.37L147.34 191.36L148.48 190.29L149.59 189.18L150.68 188.02L151.74 186.82L152.78 185.57L153.79 184.28L154.77 182.96L155.72 181.59L156.64 180.2L157.53 178.77L158.38 177.31L159.21 175.82L159.99 174.31L160.74 172.78L161.45 171.23L162.13 169.67L162.76 168.08L163.36 166.49L163.92 164.89L164.44 163.28L164.91 161.67L165.35 160.06L165.74 158.45L166.1 156.85L166.41 155.25L166.68 153.66L166.9 152.09L167.09 150.53L167.23 148.99L167.33 147.47L167.39 145.97L167.41 144.5L167.39 143.06L167.32 141.65L167.22 140.27L167.07 138.93L166.89 137.62L166.67 136.36L166.41 135.13L166.12 133.95L165.79 132.82L165.42 131.73L165.03 130.7L164.59 129.71L164.13 128.78L163.64 127.91L163.11 127.09L162.56 126.32L161.98 125.62L161.37 124.98L160.75 124.4L160.09 123.88L159.42 123.42L158.73 123.03L158.02 122.71L157.29 122.45L156.54 122.25L155.79 122.13M157.03 206.96L158.24 207.23L159.47 207.43L160.71 207.57L161.96 207.63L163.22 207.63L164.48 207.57L165.75 207.43L167.02 207.24L168.3 206.97L169.57 206.64L170.84 206.24L172.11 205.78L173.38 205.26L174.63 204.67L175.88 204.03L177.12 203.32L178.35 202.55L179.56 201.73L180.76 200.85L181.94 199.91L183.1 198.93L184.24 197.89L185.37 196.8L186.47 195.66L187.54 194.48L188.59 193.25L189.61 191.98L190.61 190.67L191.57 189.33L192.51 187.94L193.41 186.53L194.28 185.09L195.12 183.61L195.92 182.11L196.69 180.59L197.42 179.05L198.11 177.49L198.77 175.92L199.38 174.33L199.96 172.73L200.5 171.13L200.99 169.52L201.45 167.91L201.86 166.3L202.23 164.69L202.56 163.09L202.85 161.5L203.1 159.92L203.3 158.35L203.47 156.8L203.59 155.27L203.67 153.76L203.7 152.28L203.7 150.82L203.65 149.4L203.57 148L203.44 146.64L203.28 145.32L203.08 144.03L202.84 142.79L202.56 141.59L202.25 140.43L201.9 139.33L201.51 138.27L201.1 137.26L200.65 136.3L200.17 135.4L199.66 134.55L199.12 133.76L198.55 133.03L197.96 132.36L197.34 131.75L196.7 131.2L196.04 130.72L195.35 130.3L194.65 129.94L193.93 129.65L193.19 129.42L192.44 129.27M193.97 214.2L195.19 214.43L196.42 214.6L197.67 214.7L198.92 214.73L200.18 214.7L201.45 214.59L202.72 214.43L204 214.19L205.27 213.89L206.54 213.53L207.82 213.1L209.08 212.6L210.34 212.05L211.59 211.43L212.84 210.75L214.07 210.01L215.29 209.21L216.49 208.36L217.68 207.45L218.85 206.49L220.01 205.47L221.14 204.4L222.25 203.29L223.34 202.13L224.4 200.92L225.43 199.67L226.44 198.38L227.42 197.05L228.37 195.69L229.29 194.29L230.18 192.86L231.03 191.4L231.85 189.91L232.63 188.4L233.38 186.87L234.09 185.31L234.76 183.75L235.4 182.16L235.99 180.57L236.55 178.97L237.06 177.36L237.54 175.75L237.97 174.14L238.36 172.53L238.71 170.93L239.02 169.33L239.29 167.74L239.51 166.17L239.69 164.61L239.83 163.07L239.93 161.56L239.99 160.06L240 158.59L239.98 157.15L239.91 155.74L239.81 154.36L239.66 153.02L239.48 151.72L239.25 150.46L238.99 149.24L238.7 148.06L238.36 146.93L238 145.85L237.59 144.81L237.16 143.83L236.69 142.9L236.2 142.03L235.67 141.22L235.12 140.46L234.54 139.76L233.93 139.12L233.3 138.54L232.65 138.03L231.97 137.58L231.28 137.19L230.57 136.87L229.84 136.61L229.09 136.42L228.33 136.3M229.7 221.16L230.91 221.42L232.14 221.62L233.38 221.75L234.63 221.81L235.89 221.81L237.15 221.74L238.42 221.6L239.7 221.4L240.97 221.13L242.24 220.79L243.52 220.4L244.79 219.93L246.05 219.4L247.31 218.81L248.55 218.16L249.79 217.45L251.02 216.68L252.23 215.86L253.42 214.97L254.6 214.03L255.77 213.04L256.91 212L258.03 210.91L259.13 209.77L260.2 208.58L261.25 207.35L262.27 206.08L263.26 204.77L264.23 203.42L265.16 202.04L266.06 200.62L266.93 199.17L267.77 197.7L268.57 196.2L269.33 194.68L270.06 193.13L270.75 191.57L271.4 190L272.02 188.41L272.59 186.81L273.12 185.21L273.62 183.6L274.07 181.98L274.48 180.37L274.85 178.77L275.18 177.17L275.46 175.58L275.71 174L275.91 172.43L276.07 170.88L276.19 169.35L276.26 167.85L276.3 166.37L276.29 164.91L276.25 163.49L276.16 162.1L276.03 160.74L275.86 159.42L275.66 158.13L275.42 156.89L275.14 155.69L274.82 154.54L274.47 153.44L274.08 152.38L273.67 151.37L273.21 150.42L272.73 149.52L272.22 148.68L271.68 147.89L271.11 147.17L270.52 146.5L269.9 145.89L269.25 145.35L268.59 144.87L267.9 144.45L267.2 144.1L266.48 143.81L265.74 143.59L264.99 143.44M266.64 228.4L267.86 228.62L269.09 228.79L270.34 228.88L271.6 228.91L272.86 228.87L274.12 228.76L275.4 228.59L276.67 228.35L277.94 228.05L279.22 227.68L280.49 227.25L281.75 226.75L283.01 226.19L284.27 225.57L285.51 224.88L286.74 224.14L287.96 223.34L289.16 222.48L290.35 221.57L291.52 220.6L292.67 219.58L293.8 218.51L294.91 217.4L296 216.23L297.06 215.02L298.09 213.77L299.1 212.48L300.08 211.15L301.02 209.78L301.94 208.38L302.83 206.95L303.68 205.48L304.49 204L305.28 202.48L306.02 200.95L306.73 199.4L307.4 197.83L308.03 196.24L308.62 194.65L309.18 193.05L309.69 191.44L310.16 189.83L310.59 188.22L310.98 186.61L311.33 185.01L311.63 183.41L311.9 181.82L312.12 180.25L312.3 178.7L312.44 177.16L312.53 175.64L312.59 174.15L312.6 172.68L312.57 171.24L312.5 169.83L312.39 168.46L312.24 167.12L312.06 165.82L311.83 164.56L311.57 163.34L311.27 162.17L310.94 161.04L310.57 159.96L310.16 158.93L309.73 157.95L309.26 157.03L308.76 156.16L308.23 155.35L307.68 154.59L307.1 153.89L306.49 153.26L305.86 152.69L305.2 152.18L304.53 151.73L303.83 151.35L303.12 151.03L302.39 150.78L301.64 150.59L300.88 150.47M302.37 235.35L303.58 235.61L304.81 235.81L306.05 235.93L307.3 235.99L308.56 235.99L309.83 235.91L311.1 235.77L312.37 235.56L313.64 235.29L314.92 234.95L316.19 234.55L317.46 234.08L318.72 233.55L319.98 232.95L321.22 232.3L322.46 231.59L323.69 230.81L324.9 229.98L326.09 229.09L327.27 228.15L328.43 227.16L329.57 226.11L330.69 225.02L331.79 223.87L332.86 222.68L333.91 221.45L334.93 220.18L335.92 218.86L336.88 217.51L337.81 216.13L338.71 214.71L339.58 213.26L340.41 211.79L341.21 210.28L341.97 208.76L342.7 207.22L343.39 205.65L344.04 204.08L344.65 202.49L345.22 200.89L345.75 199.28L346.24 197.67L346.69 196.06L347.1 194.45L347.47 192.85L347.79 191.25L348.08 189.66L348.32 188.08L348.52 186.51L348.67 184.97L348.79 183.44L348.86 181.93L348.89 180.45L348.89 179L348.84 177.58L348.75 176.19L348.62 174.83L348.45 173.51L348.24 172.23L348 171L347.71 169.8L347.4 168.65L347.04 167.55L346.65 166.49L346.23 165.49L345.78 164.54L345.3 163.65L344.78 162.81L344.24 162.03L343.67 161.3L343.07 160.64L342.45 160.04L341.81 159.5L341.14 159.02L340.46 158.61L339.75 158.26L339.03 157.98L338.29 157.76L337.54 157.61M339.31 242.59L340.53 242.81L341.77 242.97L343.01 243.06L344.27 243.09L345.53 243.04L346.8 242.93L348.07 242.76L349.34 242.51L350.62 242.21L351.89 241.83L353.16 241.4L354.43 240.89L355.69 240.33L356.94 239.7L358.18 239.02L359.41 238.27L360.63 237.47L361.83 236.61L363.02 235.69L364.19 234.72L365.34 233.7L366.47 232.62L367.58 231.5L368.66 230.34L369.72 229.12L370.75 227.87L371.76 226.57L372.73 225.24L373.68 223.87L374.59 222.47L375.47 221.03L376.32 219.57L377.14 218.08L377.92 216.57L378.66 215.03L379.37 213.48L380.03 211.91L380.66 210.32L381.25 208.73L381.8 207.13L382.31 205.52L382.78 203.91L383.21 202.3L383.6 200.69L383.94 199.09L384.25 197.49L384.51 195.91L384.73 194.33L384.9 192.78L385.04 191.24L385.13 189.73L385.18 188.23L385.19 186.77L385.16 185.33L385.09 183.93L384.98 182.55L384.83 181.22L384.64 179.92L384.41 178.66L384.15 177.44L383.85 176.27L383.51 175.15L383.14 174.07L382.73 173.05L382.29 172.07L381.83 171.15L381.33 170.28L380.8 169.47L380.24 168.72L379.65 168.03L379.05 167.4L378.41 166.83L377.76 166.32L377.08 165.88L376.38 165.5L375.67 165.19L374.94 164.94L374.19 164.76L373.43 164.64M375.04 249.55L376.25 249.81L377.48 250L378.72 250.12L379.98 250.17L381.23 250.16L382.5 250.08L383.77 249.94L385.04 249.73L386.32 249.45L387.59 249.11L388.86 248.7L390.13 248.23L391.39 247.69L392.65 247.09L393.9 246.44L395.13 245.72L396.36 244.94L397.57 244.11L398.76 243.22L399.94 242.27L401.1 241.27L402.24 240.22L403.36 239.12L404.45 237.98L405.52 236.79L406.57 235.55L407.58 234.28L408.57 232.96L409.53 231.61L410.46 230.22L411.36 228.8L412.23 227.35L413.06 225.87L413.85 224.37L414.61 222.84L415.34 221.3L416.02 219.74L416.67 218.16L417.28 216.57L417.85 214.97L418.38 213.36L418.87 211.75L419.31 210.14L419.72 208.53L420.08 206.93L420.41 205.33L420.69 203.74L420.93 202.16L421.12 200.6L421.28 199.05L421.39 197.52L421.46 196.02L421.49 194.54L421.48 193.09L421.43 191.67L421.33 190.28L421.2 188.93L421.03 187.61L420.82 186.33L420.57 185.1L420.29 183.91L419.97 182.76L419.61 181.66L419.22 180.61L418.8 179.61L418.35 178.66L417.86 177.77L417.35 176.94L416.8 176.16L416.23 175.44L415.63 174.78L415.01 174.18L414.36 173.64L413.7 173.17L413.01 172.76L412.3 172.42L411.58 172.14L410.84 171.92L410.08 171.78M411.98 256.78L413.2 257L414.44 257.16L415.68 257.24L416.94 257.26L418.2 257.22L419.47 257.1L420.74 256.92L422.02 256.68L423.29 256.36L424.56 255.99L425.83 255.54L427.1 255.04L428.36 254.47L429.61 253.84L430.85 253.15L432.08 252.4L433.3 251.59L434.5 250.73L435.69 249.81L436.85 248.84L438 247.81L439.13 246.74L440.24 245.61L441.32 244.44L442.38 243.23L443.41 241.97L444.41 240.67L445.39 239.34L446.33 237.96L447.24 236.56L448.12 235.12L448.97 233.66L449.78 232.17L450.56 230.65L451.3 229.11L452 227.56L452.67 225.99L453.3 224.4L453.88 222.81L454.43 221.21L454.94 219.6L455.41 217.99L455.83 216.38L456.22 214.77L456.56 213.16L456.86 211.57L457.12 209.99L457.33 208.42L457.51 206.86L457.64 205.33L457.73 203.81L457.78 202.32L457.79 200.86L457.75 199.42L457.68 198.02L457.57 196.65L457.41 195.31L457.22 194.02L456.99 192.76L456.73 191.55L456.42 190.38L456.08 189.26L455.71 188.19L455.3 187.16L454.86 186.19L454.39 185.27L453.89 184.41L453.36 183.61L452.8 182.86L452.21 182.17L451.6 181.54L450.97 180.98L450.31 180.47L449.63 180.03L448.93 179.66L448.22 179.35L447.48 179.11L446.74 178.93M447.71 263.75L448.92 264L450.15 264.18L451.4 264.3L452.65 264.35L453.91 264.34L455.17 264.25L456.44 264.1L457.72 263.89L458.99 263.61L460.27 263.26L461.54 262.85L462.8 262.37L464.07 261.83L465.32 261.23L466.57 260.57L467.8 259.85L469.03 259.07" fill="none" stroke="#d0571a" stroke-width="2.1" stroke-linecap="round" stroke-linejoin="round"/>
<line x1="98.3" y1="153.3" x2="480.4" y2="228" stroke="#ff1010" stroke-width="1.5"/>
<path d="M474 227.2L465.8 229.8Q463.6 229.6 463.8 227L465 223Q466 222.2 467.4 222.8Z" fill="#f01010"/>
<text x="474" y="227" font-size="9.6" font-weight="bold" fill="#ff1010" style="stroke:none" textLength="6.8" lengthAdjust="spacingAndGlyphs">Z</text>
<path d="M72.33 164.03L72.34 165.63L72.38 167.21L72.48 168.77L72.61 170.3L72.79 171.79L73.01 173.26L73.27 174.68L73.57 176.07L73.92 177.42L74.3 178.73L74.72 179.99L75.18 181.21L75.68 182.37L76.22 183.49L76.79 184.55L77.4 185.57L78.04 186.52L78.71 187.42L79.42 188.26L80.16 189.04L80.92 189.76L81.72 190.42L82.54 191.02L83.39 191.55L84.26 192.02L85.16 192.43L86.08 192.76L87.03 193.04L87.99 193.24M120.64 115.26L119.89 115.1L119.13 115L118.35 114.97L117.57 115.01L116.78 115.11L115.98 115.28L115.18 115.52L114.37 115.82L113.56 116.19L112.76 116.63L111.95 117.13L111.15 117.69L110.35 118.32L109.57 119.01L108.79 119.76L108.02 120.57L107.26 121.44L106.52 122.37L105.79 123.35L105.08 124.39L104.39 125.48L103.71 126.62L103.06 127.81L102.44 129.05L101.83 130.33L101.26 131.66L100.7 133.03L100.18 134.43L99.69 135.88L99.23 137.36L98.8 138.87L98.4 140.41L98.04 141.98L97.71 143.57L97.42 145.19L97.16 146.83L96.94 148.48L96.76 150.15L96.62 151.83L96.52 153.52L96.46 155.22L96.44 156.92L96.46 158.62L96.52 160.33L96.62 162.02L96.77 163.71L96.96 165.39L97.18 167.06L97.46 168.72L97.77 170.35L98.12 171.97L98.52 173.56L98.96 175.13L99.44 176.67L99.96 178.19L100.52 179.66L101.12 181.11L101.76 182.52L102.43 183.88L103.15 185.21L103.9 186.49L104.69 187.73L105.51 188.92L106.37 190.06L107.26 191.15L108.18 192.19L109.13 193.17L110.12 194.09L111.13 194.96L112.17 195.77L113.23 196.52L114.32 197.21L115.44 197.84L116.57 198.4L117.73 198.9L118.9 199.33L120.09 199.7L121.3 200.01L122.52 200.24M156.54 122.25L155.79 122.13L155.02 122.06L154.24 122.07L153.45 122.14L152.65 122.28L151.85 122.49L151.05 122.76L150.24 123.1L149.43 123.51L148.62 123.97L147.82 124.51L147.02 125.11L146.23 125.77L145.45 126.49L144.67 127.27L143.91 128.11L143.16 129.01L142.43 129.97L141.71 130.98L141.01 132.05L140.33 133.17L139.66 134.33L139.03 135.55L138.41 136.81L137.82 138.12L137.26 139.47L136.72 140.86L136.21 142.28L135.74 143.75L135.29 145.24L134.88 146.77L134.5 148.33L134.16 149.91L133.85 151.52L133.57 153.15L133.34 154.79L133.14 156.46L132.98 158.13L132.86 159.82L132.78 161.51L132.74 163.21L132.74 164.91L132.78 166.62L132.87 168.32L132.99 170.01L133.16 171.7L133.37 173.37L133.62 175.03L133.91 176.68L134.25 178.3L134.63 179.91L135.05 181.49L135.51 183.04L136.01 184.57L136.55 186.06L137.13 187.53L137.75 188.95L138.41 190.34L139.11 191.68L139.84 192.99L140.61 194.24L141.42 195.46L142.26 196.62L143.13 197.73L144.04 198.8L144.98 199.8L145.95 200.76L146.95 201.65L147.98 202.49L149.03 203.27L150.11 203.99L151.21 204.64L152.33 205.23L153.48 205.76L154.64 206.23L155.83 206.63L157.03 206.96L158.24 207.23M193.19 129.42L192.44 129.27L191.68 129.17L190.9 129.15L190.12 129.19L189.32 129.3L188.52 129.47L187.72 129.71L186.91 130.02L186.11 130.4L185.3 130.84L184.5 131.34L183.69 131.91L182.9 132.54L182.11 133.23L181.33 133.99L180.56 134.8L179.81 135.67L179.07 136.6L178.34 137.59L177.63 138.63L176.94 139.72L176.27 140.87L175.62 142.06L174.99 143.3L174.39 144.59L173.82 145.92L173.27 147.29L172.75 148.7L172.26 150.15L171.8 151.63L171.37 153.14L170.97 154.68L170.61 156.26L170.28 157.85L169.99 159.47L169.74 161.11L169.53 162.76L169.35 164.43L169.21 166.11L169.11 167.81L169.05 169.5L169.03 171.2L169.06 172.91L169.12 174.61L169.23 176.31L169.37 178L169.56 179.68L169.79 181.34L170.07 183L170.38 184.63L170.74 186.25L171.14 187.84L171.58 189.41L172.06 190.95L172.59 192.46L173.15 193.93L173.75 195.38L174.39 196.78L175.07 198.15L175.79 199.47L176.54 200.75L177.33 201.98L178.16 203.17L179.02 204.31L179.91 205.39L180.83 206.43L181.79 207.41L182.77 208.33L183.79 209.19L184.83 210L185.9 210.75L186.99 211.43L188.1 212.05L189.24 212.61L190.39 213.11L191.57 213.54L192.76 213.9L193.97 214.2L195.19 214.43M229.09 136.42L228.33 136.3L227.56 136.24L226.78 136.25L225.99 136.33L225.2 136.47L224.4 136.68L223.59 136.96L222.78 137.3L221.98 137.71L221.17 138.18L220.37 138.72L219.57 139.32L218.78 139.99L217.99 140.71L217.22 141.5L216.46 142.35L215.71 143.25L214.98 144.21L214.26 145.22L213.56 146.29L212.88 147.41L212.22 148.58L211.58 149.8L210.97 151.07L210.38 152.38L209.82 153.73L209.28 155.12L208.78 156.55L208.3 158.02L207.86 159.52L207.45 161.05L207.07 162.6L206.73 164.19L206.42 165.8L206.15 167.43L205.92 169.07L205.72 170.74L205.57 172.41L205.45 174.1L205.37 175.8L205.33 177.5L205.34 179.2L205.38 180.9L205.47 182.6L205.6 184.29L205.77 185.98L205.98 187.65L206.23 189.31L206.53 190.96L206.87 192.58L207.25 194.18L207.67 195.76L208.13 197.32L208.63 198.84L209.18 200.33L209.76 201.79L210.38 203.21L211.05 204.6L211.75 205.94L212.48 207.24L213.26 208.5L214.06 209.71L214.91 210.87L215.78 211.98L216.69 213.04L217.63 214.04L218.61 214.99L219.61 215.88L220.63 216.72L221.69 217.49L222.77 218.21L223.87 218.86L225 219.45L226.15 219.97L227.31 220.43L228.5 220.83L229.7 221.16L230.91 221.42M265.74 143.59L264.99 143.44L264.22 143.35L263.45 143.33L262.66 143.37L261.87 143.48L261.07 143.66L260.27 143.91L259.46 144.22L258.65 144.6L257.85 145.04L257.04 145.55L256.24 146.12L255.45 146.76L254.66 147.45L253.88 148.21L253.11 149.03L252.36 149.91L251.62 150.84L250.89 151.83L250.18 152.87L249.49 153.97L248.82 155.12L248.18 156.32L247.55 157.56L246.95 158.85L246.38 160.18L245.83 161.55L245.31 162.97L244.82 164.41L244.36 165.9L243.94 167.41L243.54 168.96L243.18 170.53L242.86 172.13L242.57 173.75L242.32 175.39L242.11 177.04L241.93 178.71L241.8 180.4L241.7 182.09L241.64 183.79L241.63 185.49L241.65 187.19L241.72 188.89L241.83 190.59L241.98 192.28L242.17 193.96L242.41 195.62L242.68 197.28L243 198.91L243.36 200.52L243.76 202.12L244.21 203.68L244.69 205.22L245.21 206.73L245.78 208.2L246.38 209.64L247.03 211.04L247.71 212.41L248.43 213.73L249.19 215L249.98 216.24L250.8 217.42L251.67 218.55L252.56 219.64L253.49 220.67L254.44 221.64L255.43 222.56L256.45 223.42L257.49 224.23L258.56 224.97L259.65 225.65L260.77 226.27L261.9 226.82L263.06 227.31L264.24 227.74L265.43 228.1L266.64 228.4L267.86 228.62M301.64 150.59L300.88 150.47L300.11 150.42L299.33 150.43L298.54 150.51L297.74 150.66L296.94 150.87L296.14 151.16L295.33 151.5L294.52 151.92L293.72 152.39L292.91 152.94L292.12 153.54L291.32 154.21L290.54 154.94L289.77 155.73L289.01 156.58L288.26 157.49L287.53 158.45L286.81 159.47L286.11 160.54L285.43 161.66L284.77 162.84L284.14 164.06L283.53 165.33L282.94 166.64L282.38 167.99L281.85 169.39L281.34 170.82L280.87 172.29L280.43 173.79L280.02 175.32L279.65 176.88L279.31 178.47L279 180.08L278.73 181.71L278.5 183.35L278.31 185.02L278.15 186.7L278.04 188.38L277.96 190.08L277.93 191.78L277.93 193.48L277.98 195.18L278.07 196.88L278.2 198.58L278.37 200.26L278.59 201.93L278.84 203.59L279.14 205.24L279.48 206.86L279.87 208.46L280.29 210.04L280.75 211.59L281.26 213.11L281.81 214.6L282.39 216.06L283.02 217.48L283.68 218.86L284.38 220.2L285.12 221.5L285.9 222.75L286.71 223.96L287.56 225.12L288.43 226.22L289.35 227.28L290.29 228.28L291.26 229.23L292.26 230.12L293.29 230.95L294.35 231.72L295.43 232.43L296.54 233.07L297.66 233.66L298.81 234.18L299.98 234.64L301.16 235.03L302.37 235.35L303.58 235.61M338.29 157.76L337.54 157.61L336.77 157.52L335.99 157.51L335.21 157.56L334.42 157.67L333.62 157.86L332.81 158.11L332 158.42L331.2 158.8L330.39 159.25L329.59 159.76L328.79 160.34L327.99 160.98L327.21 161.68L326.43 162.44L325.66 163.26L324.91 164.14L324.17 165.08L323.44 166.07L322.73 167.12L322.05 168.22L321.38 169.37L320.73 170.57L320.11 171.82L319.51 173.11L318.94 174.44L318.39 175.82L317.87 177.23L317.39 178.68L316.93 180.17L316.51 181.69L316.12 183.23L315.76 184.81L315.44 186.41L315.15 188.03L314.9 189.67L314.69 191.32L314.52 193L314.38 194.68L314.29 196.37L314.24 198.07L314.22 199.77L314.25 201.47L314.32 203.17L314.43 204.87L314.58 206.56L314.78 208.24L315.02 209.9L315.3 211.56L315.62 213.19L315.98 214.8L316.38 216.39L316.83 217.96L317.32 219.49L317.84 221L318.41 222.47L319.02 223.91L319.66 225.31L320.35 226.67L321.07 227.99L321.83 229.26L322.62 230.49L323.45 231.67L324.32 232.8L325.21 233.88L326.14 234.91L327.1 235.88L328.09 236.79L329.1 237.65L330.15 238.45L331.22 239.19L332.31 239.87L333.43 240.48L334.57 241.03L335.73 241.52L336.9 241.94L338.1 242.3L339.31 242.59L340.53 242.81M374.19 164.76L373.43 164.64L372.66 164.59L371.88 164.61L371.09 164.7L370.29 164.85L369.49 165.07L368.68 165.35L367.87 165.71L367.07 166.12L366.26 166.6L365.46 167.15L364.66 167.76L363.87 168.43L363.09 169.16L362.32 169.96L361.56 170.81L360.81 171.72L360.08 172.69L359.36 173.71L358.66 174.79L357.99 175.91L357.33 177.09L356.69 178.31L356.08 179.58L355.5 180.9L354.94 182.26L354.41 183.65L353.91 185.09L353.44 186.56L353 188.06L352.59 189.59L352.22 191.16L351.88 192.74L351.58 194.35L351.31 195.99L351.08 197.63L350.89 199.3L350.74 200.98L350.63 202.67L350.55 204.36L350.52 206.06L350.53 207.76L350.58 209.47L350.67 211.16L350.81 212.86L350.98 214.54L351.2 216.21L351.46 217.87L351.76 219.51L352.1 221.14L352.49 222.74L352.91 224.31L353.38 225.86L353.89 227.38L354.44 228.87L355.03 230.33L355.65 231.74L356.32 233.12L357.02 234.46L357.77 235.76L358.54 237.01L359.36 238.21L360.2 239.37L361.08 240.47L362 241.52L362.94 242.52L363.92 243.46L364.92 244.35L365.95 245.17L367.01 245.94L368.09 246.65L369.2 247.29L370.33 247.87L371.48 248.39L372.65 248.84L373.83 249.23L375.04 249.55L376.25 249.81M410.84 171.92L410.08 171.78L409.32 171.7L408.54 171.68L407.75 171.74L406.96 171.86L406.16 172.05L405.36 172.3L404.55 172.62L403.74 173.01L402.94 173.46L402.13 173.97L401.33 174.55L400.54 175.2L399.75 175.9L398.97 176.67L398.21 177.49L397.46 178.38L396.72 179.32L395.99 180.31L395.29 181.36L394.6 182.47L393.93 183.62L393.29 184.82L392.67 186.07L392.07 187.37L391.5 188.7L390.95 190.08L390.44 191.5L389.95 192.95L389.5 194.44L389.08 195.96L388.69 197.51L388.33 199.08L388.01 200.68L387.73 202.31L387.48 203.95L387.27 205.61L387.1 207.28L386.97 208.96L386.88 210.65L386.83 212.35L386.82 214.05L386.85 215.76L386.92 217.46L387.04 219.15L387.19 220.84L387.39 222.52L387.63 224.19L387.91 225.84L388.23 227.47L388.6 229.08L389 230.67L389.45 232.23L389.94 233.76L390.47 235.27L391.04 236.74L391.65 238.17L392.3 239.57L392.99 240.93L393.71 242.24L394.47 243.52L395.27 244.74L396.1 245.92L396.96 247.05L397.86 248.12L398.79 249.15L399.75 250.12L400.74 251.03L401.76 251.88L402.81 252.68L403.88 253.41L404.98 254.08L406.09 254.7L407.23 255.24L408.39 255.73L409.57 256.14L410.77 256.5L411.98 256.78L413.2 257M447.48 179.11L446.74 178.93L445.98 178.82L445.2 178.77L444.42 178.79L443.63 178.88L442.83 179.04L442.03 179.26L441.23 179.55L440.42 179.91L439.61 180.33L438.81 180.81L438 181.36L437.21 181.98L436.42 182.65L435.64 183.39L434.86 184.19L434.1 185.04L433.36 185.96L432.63 186.93L431.91 187.95L431.22 189.03L430.54 190.16L429.88 191.34L429.25 192.57L428.64 193.84L428.06 195.16L427.5 196.52L426.97 197.92L426.47 199.36L426.01 200.83L425.57 202.33L425.16 203.87L424.79 205.43L424.46 207.02L424.16 208.63L423.89 210.26L423.67 211.92L423.48 213.58L423.33 215.26L423.22 216.95L423.15 218.64L423.12 220.35L423.13 222.05L423.18 223.75L423.27 225.45L423.41 227.14L423.59 228.82L423.81 230.5L424.07 232.15L424.37 233.79L424.72 235.41L425.11 237.01L425.54 238.59L426.01 240.14L426.52 241.65L427.07 243.14L427.66 244.59L428.29 246.01L428.96 247.39L429.66 248.72L430.41 250.01L431.19 251.26L432 252.46L432.85 253.61L433.74 254.71L434.65 255.76L435.6 256.76L436.57 257.7L437.58 258.58L438.61 259.4L439.67 260.16L440.76 260.87L441.86 261.51L442.99 262.08L444.14 262.6L445.31 263.05L446.5 263.43L447.71 263.75L448.92 264" fill="none" stroke="#a9471a" stroke-width="3.9" stroke-linecap="butt" stroke-linejoin="round"/>
<path d="M72.33 164.03L72.34 165.63L72.38 167.21L72.48 168.77L72.61 170.3L72.79 171.79L73.01 173.26L73.27 174.68L73.57 176.07L73.92 177.42L74.3 178.73L74.72 179.99L75.18 181.21L75.68 182.37L76.22 183.49L76.79 184.55L77.4 185.57L78.04 186.52L78.71 187.42L79.42 188.26L80.16 189.04L80.92 189.76L81.72 190.42L82.54 191.02L83.39 191.55L84.26 192.02L85.16 192.43L86.08 192.76L87.03 193.04L87.99 193.24M120.64 115.26L119.89 115.1L119.13 115L118.35 114.97L117.57 115.01L116.78 115.11L115.98 115.28L115.18 115.52L114.37 115.82L113.56 116.19L112.76 116.63L111.95 117.13L111.15 117.69L110.35 118.32L109.57 119.01L108.79 119.76L108.02 120.57L107.26 121.44L106.52 122.37L105.79 123.35L105.08 124.39L104.39 125.48L103.71 126.62L103.06 127.81L102.44 129.05L101.83 130.33L101.26 131.66L100.7 133.03L100.18 134.43L99.69 135.88L99.23 137.36L98.8 138.87L98.4 140.41L98.04 141.98L97.71 143.57L97.42 145.19L97.16 146.83L96.94 148.48L96.76 150.15L96.62 151.83L96.52 153.52L96.46 155.22L96.44 156.92L96.46 158.62L96.52 160.33L96.62 162.02L96.77 163.71L96.96 165.39L97.18 167.06L97.46 168.72L97.77 170.35L98.12 171.97L98.52 173.56L98.96 175.13L99.44 176.67L99.96 178.19L100.52 179.66L101.12 181.11L101.76 182.52L102.43 183.88L103.15 185.21L103.9 186.49L104.69 187.73L105.51 188.92L106.37 190.06L107.26 191.15L108.18 192.19L109.13 193.17L110.12 194.09L111.13 194.96L112.17 195.77L113.23 196.52L114.32 197.21L115.44 197.84L116.57 198.4L117.73 198.9L118.9 199.33L120.09 199.7L121.3 200.01L122.52 200.24M156.54 122.25L155.79 122.13L155.02 122.06L154.24 122.07L153.45 122.14L152.65 122.28L151.85 122.49L151.05 122.76L150.24 123.1L149.43 123.51L148.62 123.97L147.82 124.51L147.02 125.11L146.23 125.77L145.45 126.49L144.67 127.27L143.91 128.11L143.16 129.01L142.43 129.97L141.71 130.98L141.01 132.05L140.33 133.17L139.66 134.33L139.03 135.55L138.41 136.81L137.82 138.12L137.26 139.47L136.72 140.86L136.21 142.28L135.74 143.75L135.29 145.24L134.88 146.77L134.5 148.33L134.16 149.91L133.85 151.52L133.57 153.15L133.34 154.79L133.14 156.46L132.98 158.13L132.86 159.82L132.78 161.51L132.74 163.21L132.74 164.91L132.78 166.62L132.87 168.32L132.99 170.01L133.16 171.7L133.37 173.37L133.62 175.03L133.91 176.68L134.25 178.3L134.63 179.91L135.05 181.49L135.51 183.04L136.01 184.57L136.55 186.06L137.13 187.53L137.75 188.95L138.41 190.34L139.11 191.68L139.84 192.99L140.61 194.24L141.42 195.46L142.26 196.62L143.13 197.73L144.04 198.8L144.98 199.8L145.95 200.76L146.95 201.65L147.98 202.49L149.03 203.27L150.11 203.99L151.21 204.64L152.33 205.23L153.48 205.76L154.64 206.23L155.83 206.63L157.03 206.96L158.24 207.23M193.19 129.42L192.44 129.27L191.68 129.17L190.9 129.15L190.12 129.19L189.32 129.3L188.52 129.47L187.72 129.71L186.91 130.02L186.11 130.4L185.3 130.84L184.5 131.34L183.69 131.91L182.9 132.54L182.11 133.23L181.33 133.99L180.56 134.8L179.81 135.67L179.07 136.6L178.34 137.59L177.63 138.63L176.94 139.72L176.27 140.87L175.62 142.06L174.99 143.3L174.39 144.59L173.82 145.92L173.27 147.29L172.75 148.7L172.26 150.15L171.8 151.63L171.37 153.14L170.97 154.68L170.61 156.26L170.28 157.85L169.99 159.47L169.74 161.11L169.53 162.76L169.35 164.43L169.21 166.11L169.11 167.81L169.05 169.5L169.03 171.2L169.06 172.91L169.12 174.61L169.23 176.31L169.37 178L169.56 179.68L169.79 181.34L170.07 183L170.38 184.63L170.74 186.25L171.14 187.84L171.58 189.41L172.06 190.95L172.59 192.46L173.15 193.93L173.75 195.38L174.39 196.78L175.07 198.15L175.79 199.47L176.54 200.75L177.33 201.98L178.16 203.17L179.02 204.31L179.91 205.39L180.83 206.43L181.79 207.41L182.77 208.33L183.79 209.19L184.83 210L185.9 210.75L186.99 211.43L188.1 212.05L189.24 212.61L190.39 213.11L191.57 213.54L192.76 213.9L193.97 214.2L195.19 214.43M229.09 136.42L228.33 136.3L227.56 136.24L226.78 136.25L225.99 136.33L225.2 136.47L224.4 136.68L223.59 136.96L222.78 137.3L221.98 137.71L221.17 138.18L220.37 138.72L219.57 139.32L218.78 139.99L217.99 140.71L217.22 141.5L216.46 142.35L215.71 143.25L214.98 144.21L214.26 145.22L213.56 146.29L212.88 147.41L212.22 148.58L211.58 149.8L210.97 151.07L210.38 152.38L209.82 153.73L209.28 155.12L208.78 156.55L208.3 158.02L207.86 159.52L207.45 161.05L207.07 162.6L206.73 164.19L206.42 165.8L206.15 167.43L205.92 169.07L205.72 170.74L205.57 172.41L205.45 174.1L205.37 175.8L205.33 177.5L205.34 179.2L205.38 180.9L205.47 182.6L205.6 184.29L205.77 185.98L205.98 187.65L206.23 189.31L206.53 190.96L206.87 192.58L207.25 194.18L207.67 195.76L208.13 197.32L208.63 198.84L209.18 200.33L209.76 201.79L210.38 203.21L211.05 204.6L211.75 205.94L212.48 207.24L213.26 208.5L214.06 209.71L214.91 210.87L215.78 211.98L216.69 213.04L217.63 214.04L218.61 214.99L219.61 215.88L220.63 216.72L221.69 217.49L222.77 218.21L223.87 218.86L225 219.45L226.15 219.97L227.31 220.43L228.5 220.83L229.7 221.16L230.91 221.42M265.74 143.59L264.99 143.44L264.22 143.35L263.45 143.33L262.66 143.37L261.87 143.48L261.07 143.66L260.27 143.91L259.46 144.22L258.65 144.6L257.85 145.04L257.04 145.55L256.24 146.12L255.45 146.76L254.66 147.45L253.88 148.21L253.11 149.03L252.36 149.91L251.62 150.84L250.89 151.83L250.18 152.87L249.49 153.97L248.82 155.12L248.18 156.32L247.55 157.56L246.95 158.85L246.38 160.18L245.83 161.55L245.31 162.97L244.82 164.41L244.36 165.9L243.94 167.41L243.54 168.96L243.18 170.53L242.86 172.13L242.57 173.75L242.32 175.39L242.11 177.04L241.93 178.71L241.8 180.4L241.7 182.09L241.64 183.79L241.63 185.49L241.65 187.19L241.72 188.89L241.83 190.59L241.98 192.28L242.17 193.96L242.41 195.62L242.68 197.28L243 198.91L243.36 200.52L243.76 202.12L244.21 203.68L244.69 205.22L245.21 206.73L245.78 208.2L246.38 209.64L247.03 211.04L247.71 212.41L248.43 213.73L249.19 215L249.98 216.24L250.8 217.42L251.67 218.55L252.56 219.64L253.49 220.67L254.44 221.64L255.43 222.56L256.45 223.42L257.49 224.23L258.56 224.97L259.65 225.65L260.77 226.27L261.9 226.82L263.06 227.31L264.24 227.74L265.43 228.1L266.64 228.4L267.86 228.62M301.64 150.59L300.88 150.47L300.11 150.42L299.33 150.43L298.54 150.51L297.74 150.66L296.94 150.87L296.14 151.16L295.33 151.5L294.52 151.92L293.72 152.39L292.91 152.94L292.12 153.54L291.32 154.21L290.54 154.94L289.77 155.73L289.01 156.58L288.26 157.49L287.53 158.45L286.81 159.47L286.11 160.54L285.43 161.66L284.77 162.84L284.14 164.06L283.53 165.33L282.94 166.64L282.38 167.99L281.85 169.39L281.34 170.82L280.87 172.29L280.43 173.79L280.02 175.32L279.65 176.88L279.31 178.47L279 180.08L278.73 181.71L278.5 183.35L278.31 185.02L278.15 186.7L278.04 188.38L277.96 190.08L277.93 191.78L277.93 193.48L277.98 195.18L278.07 196.88L278.2 198.58L278.37 200.26L278.59 201.93L278.84 203.59L279.14 205.24L279.48 206.86L279.87 208.46L280.29 210.04L280.75 211.59L281.26 213.11L281.81 214.6L282.39 216.06L283.02 217.48L283.68 218.86L284.38 220.2L285.12 221.5L285.9 222.75L286.71 223.96L287.56 225.12L288.43 226.22L289.35 227.28L290.29 228.28L291.26 229.23L292.26 230.12L293.29 230.95L294.35 231.72L295.43 232.43L296.54 233.07L297.66 233.66L298.81 234.18L299.98 234.64L301.16 235.03L302.37 235.35L303.58 235.61M338.29 157.76L337.54 157.61L336.77 157.52L335.99 157.51L335.21 157.56L334.42 157.67L333.62 157.86L332.81 158.11L332 158.42L331.2 158.8L330.39 159.25L329.59 159.76L328.79 160.34L327.99 160.98L327.21 161.68L326.43 162.44L325.66 163.26L324.91 164.14L324.17 165.08L323.44 166.07L322.73 167.12L322.05 168.22L321.38 169.37L320.73 170.57L320.11 171.82L319.51 173.11L318.94 174.44L318.39 175.82L317.87 177.23L317.39 178.68L316.93 180.17L316.51 181.69L316.12 183.23L315.76 184.81L315.44 186.41L315.15 188.03L314.9 189.67L314.69 191.32L314.52 193L314.38 194.68L314.29 196.37L314.24 198.07L314.22 199.77L314.25 201.47L314.32 203.17L314.43 204.87L314.58 206.56L314.78 208.24L315.02 209.9L315.3 211.56L315.62 213.19L315.98 214.8L316.38 216.39L316.83 217.96L317.32 219.49L317.84 221L318.41 222.47L319.02 223.91L319.66 225.31L320.35 226.67L321.07 227.99L321.83 229.26L322.62 230.49L323.45 231.67L324.32 232.8L325.21 233.88L326.14 234.91L327.1 235.88L328.09 236.79L329.1 237.65L330.15 238.45L331.22 239.19L332.31 239.87L333.43 240.48L334.57 241.03L335.73 241.52L336.9 241.94L338.1 242.3L339.31 242.59L340.53 242.81M374.19 164.76L373.43 164.64L372.66 164.59L371.88 164.61L371.09 164.7L370.29 164.85L369.49 165.07L368.68 165.35L367.87 165.71L367.07 166.12L366.26 166.6L365.46 167.15L364.66 167.76L363.87 168.43L363.09 169.16L362.32 169.96L361.56 170.81L360.81 171.72L360.08 172.69L359.36 173.71L358.66 174.79L357.99 175.91L357.33 177.09L356.69 178.31L356.08 179.58L355.5 180.9L354.94 182.26L354.41 183.65L353.91 185.09L353.44 186.56L353 188.06L352.59 189.59L352.22 191.16L351.88 192.74L351.58 194.35L351.31 195.99L351.08 197.63L350.89 199.3L350.74 200.98L350.63 202.67L350.55 204.36L350.52 206.06L350.53 207.76L350.58 209.47L350.67 211.16L350.81 212.86L350.98 214.54L351.2 216.21L351.46 217.87L351.76 219.51L352.1 221.14L352.49 222.74L352.91 224.31L353.38 225.86L353.89 227.38L354.44 228.87L355.03 230.33L355.65 231.74L356.32 233.12L357.02 234.46L357.77 235.76L358.54 237.01L359.36 238.21L360.2 239.37L361.08 240.47L362 241.52L362.94 242.52L363.92 243.46L364.92 244.35L365.95 245.17L367.01 245.94L368.09 246.65L369.2 247.29L370.33 247.87L371.48 248.39L372.65 248.84L373.83 249.23L375.04 249.55L376.25 249.81M410.84 171.92L410.08 171.78L409.32 171.7L408.54 171.68L407.75 171.74L406.96 171.86L406.16 172.05L405.36 172.3L404.55 172.62L403.74 173.01L402.94 173.46L402.13 173.97L401.33 174.55L400.54 175.2L399.75 175.9L398.97 176.67L398.21 177.49L397.46 178.38L396.72 179.32L395.99 180.31L395.29 181.36L394.6 182.47L393.93 183.62L393.29 184.82L392.67 186.07L392.07 187.37L391.5 188.7L390.95 190.08L390.44 191.5L389.95 192.95L389.5 194.44L389.08 195.96L388.69 197.51L388.33 199.08L388.01 200.68L387.73 202.31L387.48 203.95L387.27 205.61L387.1 207.28L386.97 208.96L386.88 210.65L386.83 212.35L386.82 214.05L386.85 215.76L386.92 217.46L387.04 219.15L387.19 220.84L387.39 222.52L387.63 224.19L387.91 225.84L388.23 227.47L388.6 229.08L389 230.67L389.45 232.23L389.94 233.76L390.47 235.27L391.04 236.74L391.65 238.17L392.3 239.57L392.99 240.93L393.71 242.24L394.47 243.52L395.27 244.74L396.1 245.92L396.96 247.05L397.86 248.12L398.79 249.15L399.75 250.12L400.74 251.03L401.76 251.88L402.81 252.68L403.88 253.41L404.98 254.08L406.09 254.7L407.23 255.24L408.39 255.73L409.57 256.14L410.77 256.5L411.98 256.78L413.2 257M447.48 179.11L446.74 178.93L445.98 178.82L445.2 178.77L444.42 178.79L443.63 178.88L442.83 179.04L442.03 179.26L441.23 179.55L440.42 179.91L439.61 180.33L438.81 180.81L438 181.36L437.21 181.98L436.42 182.65L435.64 183.39L434.86 184.19L434.1 185.04L433.36 185.96L432.63 186.93L431.91 187.95L431.22 189.03L430.54 190.16L429.88 191.34L429.25 192.57L428.64 193.84L428.06 195.16L427.5 196.52L426.97 197.92L426.47 199.36L426.01 200.83L425.57 202.33L425.16 203.87L424.79 205.43L424.46 207.02L424.16 208.63L423.89 210.26L423.67 211.92L423.48 213.58L423.33 215.26L423.22 216.95L423.15 218.64L423.12 220.35L423.13 222.05L423.18 223.75L423.27 225.45L423.41 227.14L423.59 228.82L423.81 230.5L424.07 232.15L424.37 233.79L424.72 235.41L425.11 237.01L425.54 238.59L426.01 240.14L426.52 241.65L427.07 243.14L427.66 244.59L428.29 246.01L428.96 247.39L429.66 248.72L430.41 250.01L431.19 251.26L432 252.46L432.85 253.61L433.74 254.71L434.65 255.76L435.6 256.76L436.57 257.7L437.58 258.58L438.61 259.4L439.67 260.16L440.76 260.87L441.86 261.51L442.99 262.08L444.14 262.6L445.31 263.05L446.5 263.43L447.71 263.75L448.92 264" fill="none" stroke="#d0571a" stroke-width="2.1" stroke-linecap="round" stroke-linejoin="round"/>
<rect x="-5" y="309.8" width="116" height="7.4" fill="#fff" stroke="#111" stroke-width="1"/>
<path d="M110.4 309.3H261.5Q263.4 309.3 263.4 311.2V315.8Q263.4 317.7 261.5 317.7H110.4Z" fill="#0a0a0a"/>
<text x="109.1" y="332.8" font-size="12" text-anchor="middle" fill="#333" style="stroke-width:.4px">250</text>
<text x="252.8" y="332.8" font-size="12" fill="#333" style="stroke-width:.4px">500 (mm)</text>
</g>
<rect x="0" y="0" width="1.8" height="345" fill="#787878"/>
<rect x="0" y="0" width="483" height="1" fill="#9a9a9a"/>
</g>
</svg></body></html>
